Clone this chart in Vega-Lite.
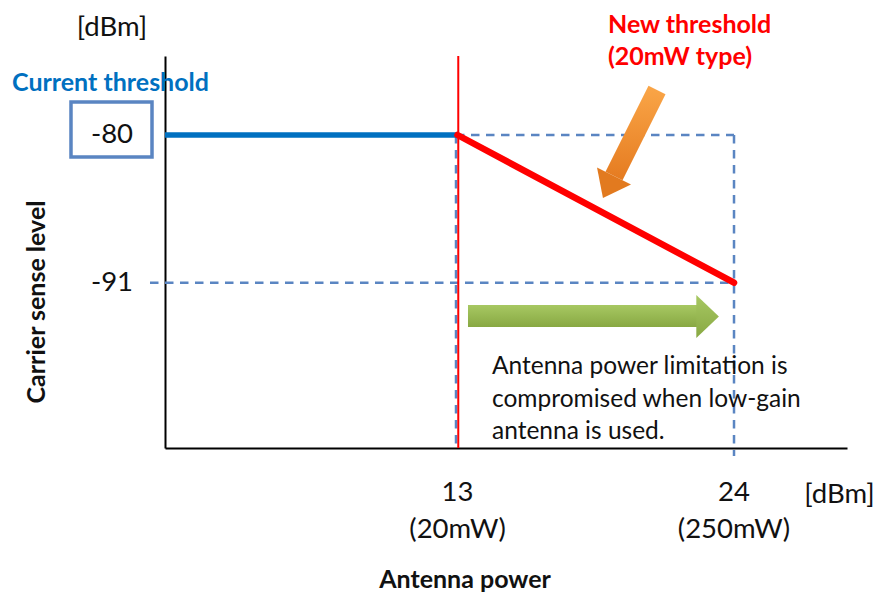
{
  "$schema": "https://vega.github.io/schema/vega-lite/v6.json",
  "width": 682,
  "height": 392,
  "autosize": {"type": "none"},
  "padding": {"left": 165, "top": 56, "right": 37, "bottom": 146},
  "background": "white",
  "config": {"view": {"stroke": null}, "font": "Lato"},
  "encoding": {
    "x": {"field": "x", "type": "quantitative", "scale": {"domain": [1.363, 28.495], "nice": false, "zero": false},
      "axis": {"title": null, "labels": false, "ticks": false, "grid": false, "domainColor": "#000000", "domainWidth": 2}},
    "y": {"field": "y", "type": "quantitative", "scale": {"domain": [-103.307, -74.118], "nice": false, "zero": false},
      "axis": {"title": null, "labels": false, "ticks": false, "grid": false, "domainColor": "#000000", "domainWidth": 2}}
  },
  "layer": [
    {
      "data": {"values": [
        {"x": 12.94, "y": -80, "x2": 24, "y2": -80},
        {"x": 24, "y": -80, "x2": 24, "y2": -103.9},
        {"x": 0.766, "y": -91, "x2": 24, "y2": -91},
        {"x": 12.94, "y": -80, "x2": 12.94, "y2": -103.307}
      ]},
      "mark": {"type": "rule", "stroke": "#5A85C2", "strokeWidth": 2.5, "strokeDash": [8.5, 6.5]},
      "encoding": {"x2": {"field": "x2"}, "y2": {"field": "y2"}}
    },
    {
      "data": {"values": [{"x": 13.03, "y": -74.118, "y2": -103.307}]},
      "mark": {"type": "rule", "stroke": "#FF0000", "strokeWidth": 2},
      "encoding": {"y2": {"field": "y2"}}
    },
    {
      "data": {"values": [{"x": 1.363, "y": -80}, {"x": 13, "y": -80}]},
      "mark": {"type": "line", "stroke": "#0070C0", "strokeWidth": 5.5}
    },
    {
      "data": {"values": [{"x": 13, "y": -80}, {"x": 24, "y": -91}]},
      "mark": {"type": "line", "stroke": "#FF0000", "strokeWidth": 6.5, "strokeCap": "round"}
    },
    {
      "data": {"values": [{"x": -2.377, "y": -77.543, "x2": 0.846, "y2": -81.638}]},
      "mark": {"type": "rect", "fill": "white", "stroke": "#5A85C2", "strokeWidth": 3.5},
      "encoding": {"x2": {"field": "x2"}, "y2": {"field": "y2"}}
    },
    {
      "data": {"values": [{"x": 13.417, "y": -92.659, "x2": 22.528, "y2": -94.297}]},
      "mark": {"type": "rect", "fill": {"gradient": "linear", "x1": 0, "y1": 0, "x2": 0, "y2": 1, "stops": [{"offset": 0, "color": "#A7C862"}, {"offset": 1, "color": "#88A843"}]}},
      "encoding": {"x2": {"field": "x2"}, "y2": {"field": "y2"}}
    },
    {
      "data": {"values": [{"x": 22.5, "y": -93.515}]},
      "mark": {"type": "point", "shape": "M0,-1L0,1L1.05,0Z", "size": 1849, "filled": true, "opacity": 1, "strokeWidth": 0,
        "fill": {"gradient": "linear", "x1": 0, "y1": 0, "x2": 0, "y2": 1, "stops": [{"offset": 0, "color": "#A7C862"}, {"offset": 1, "color": "#88A843"}]}}
    },
    {
      "data": {"values": [{"x": 20.936, "y": -76.65, "x2": 19.226, "y2": -83.053}]},
      "mark": {"type": "rule", "strokeWidth": 19, "strokeCap": "butt",
        "stroke": {"gradient": "linear", "x1": 0, "y1": 0, "x2": 0, "y2": 1, "stops": [{"offset": 0, "color": "#F9A446"}, {"offset": 1, "color": "#E67D22"}]}},
      "encoding": {"x2": {"field": "x2"}, "y2": {"field": "y2"}}
    },
    {
      "data": {"values": [{"x": 19.226, "y": -83.053}]},
      "mark": {"type": "point", "shape": "M-1,0L1,0L0,1.3Z", "size": 1444, "angle": 26.6, "filled": true, "opacity": 1, "strokeWidth": 0, "fill": "#E27A1F"}
    },
    {
      "data": {"values": [
        {"x": -0.746, "y": -72.03, "label": "[dBm]"},
        {"x": -0.746, "y": -80, "label": "-80"},
        {"x": -0.746, "y": -91, "label": "-91"},
        {"x": 13, "y": -106.635, "label": "13"},
        {"x": 13, "y": -109.412, "label": "(20mW)"},
        {"x": 24, "y": -106.635, "label": "24"},
        {"x": 24, "y": -109.412, "label": "(250mW)"},
        {"x": 28.197, "y": -106.806, "label": "[dBm]"}
      ]},
      "mark": {"type": "text", "font": "Lato", "fontSize": 27.5, "color": "#111111", "align": "center", "baseline": "middle"},
      "encoding": {"text": {"field": "label"}}
    },
    {
      "data": {"values": [
        {"x": 14.372, "y": -97.275, "label": "Antenna power limitation is"},
        {"x": 14.372, "y": -99.732, "label": "compromised when low-gain"},
        {"x": 14.372, "y": -102.115, "label": "antenna is used."}
      ]},
      "mark": {"type": "text", "font": "Lato", "fontSize": 24.5, "color": "#111111", "align": "left", "baseline": "middle"},
      "encoding": {"text": {"field": "label"}}
    },
    {
      "data": {"values": [{"x": -0.805, "y": -76.106, "label": "Current threshold"}]},
      "mark": {"type": "text", "font": "Lato", "fontWeight": "bold", "fontSize": 25, "color": "#0070C0", "align": "center", "baseline": "middle"},
      "encoding": {"text": {"field": "label"}}
    },
    {
      "data": {"values": [
        {"x": 18.987, "y": -71.81, "label": "New threshold"},
        {"x": 18.987, "y": -74.19, "label": "(20mW type)"}
      ]},
      "mark": {"type": "text", "font": "Lato", "fontWeight": "bold", "fontSize": 25, "color": "#FF0000", "align": "left", "baseline": "middle"},
      "encoding": {"text": {"field": "label"}}
    },
    {
      "data": {"values": [{"x": 13.298, "y": -113.135, "label": "Antenna power"}]},
      "mark": {"type": "text", "font": "Lato", "fontWeight": "bold", "fontSize": 25, "color": "#111111", "align": "center", "baseline": "middle"},
      "encoding": {"text": {"field": "label"}}
    },
    {
      "data": {"values": [{"x": -3.729, "y": -92.435, "label": "Carrier sense level"}]},
      "mark": {"type": "text", "font": "Lato", "fontWeight": "bold", "fontSize": 25, "color": "#111111", "align": "center", "baseline": "middle", "angle": 270},
      "encoding": {"text": {"field": "label"}}
    }
  ]
}
